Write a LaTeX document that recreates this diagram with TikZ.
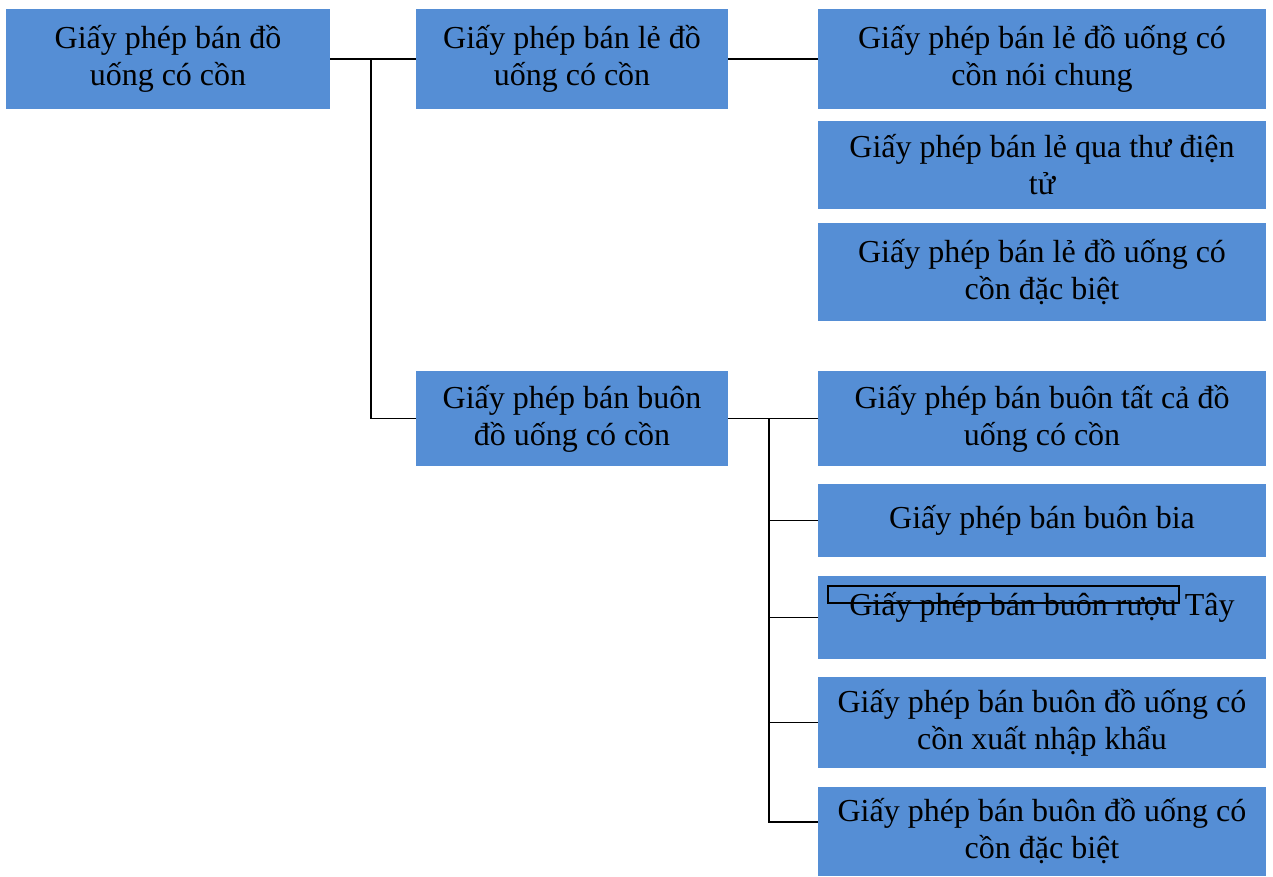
\documentclass[tikz,border=0pt]{standalone}
\usepackage{fontspec}
\setmainfont{Liberation Serif}
\definecolor{licblue}{HTML}{558ED5}

\begin{document}
\begin{tikzpicture}[x=0.75pt, y=-0.75pt,
    lic/.style={fill=licblue, inner sep=0pt, align=center,
      font=\fontsize{24}{27.75}\selectfont},
    wire/.style={line width=1.4pt}]
    \useasboundingbox (0,0) rectangle (1273,877);

    % left and middle column
    \node[lic, minimum width=324*0.75pt, minimum height=100*0.75pt] (root) at (168,59)
      {Giấy phép bán đồ\\uống có cồn};
    \node[lic, minimum width=312*0.75pt, minimum height=100*0.75pt] (retail) at (572,59)
      {Giấy phép bán lẻ đồ\\uống có cồn};
    \node[lic, minimum width=312*0.75pt, minimum height=95*0.75pt] (wholesale) at (572,418.5)
      {Giấy phép bán buôn\\đồ uống có cồn};

    % right column
    \foreach \n/\cy/\h/\txt in {
      r1/59/100/{Giấy phép bán lẻ đồ uống có\\cồn nói chung},
      r2/165/88/{Giấy phép bán lẻ qua thư điện\\tử},
      r3/272/98/{Giấy phép bán lẻ đồ uống có\\cồn đặc biệt},
      w1/418.5/95/{Giấy phép bán buôn tất cả đồ\\uống có cồn},
      w2/520.5/73/{Giấy phép bán buôn bia},
      w3/617.5/83/{Giấy phép bán buôn rượu Tây\\[-7.5pt]~},
      w4/722.5/91/{Giấy phép bán buôn đồ uống có\\cồn xuất nhập khẩu},
      w5/831.5/89/{Giấy phép bán buôn đồ uống có\\cồn đặc biệt}} {
        \node[lic, minimum width=448*0.75pt, minimum height=\h*0.75pt] (\n) at (1042,\cy) {\txt};
    }

    \draw[line width=0.9pt] (828,586) rectangle (1179,603);

    \coordinate (split1) at (371,59);
    \coordinate (split2) at (769,418.5);

    \draw[wire] (root.east) -- (retail.west);
    \draw[wire] (split1) |- (wholesale.west);
    \draw[wire] (retail.east) -- (r1.west);
    \draw[wire] (wholesale.east) -- (w1.west);
    \foreach \n in {w2,w3,w4} {
        \draw[wire] (split2) |- (\n.west);
    }
    \draw[wire] (split2) |- ([yshift=7pt]w5.west);

  \end{tikzpicture}
\end{document}
